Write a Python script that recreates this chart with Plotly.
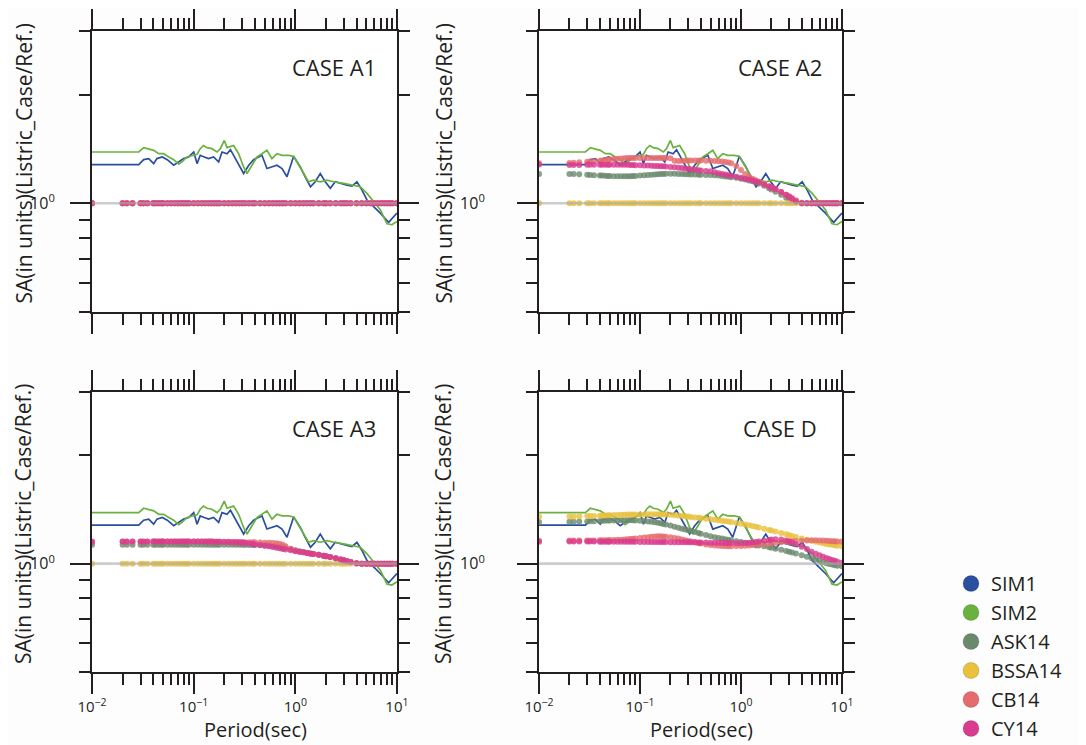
import math
import plotly.graph_objects as go

# ---------------- data ----------------
PERIODS = [
    0.01, 0.02, 0.022, 0.025, 0.03, 0.032, 0.035, 0.04, 0.042, 0.045,
    0.048, 0.05, 0.055, 0.06, 0.065, 0.07, 0.075, 0.08, 0.085, 0.09,
    0.1, 0.11, 0.12, 0.13, 0.14, 0.15, 0.16, 0.17, 0.18, 0.2,
    0.22, 0.24, 0.26, 0.28, 0.3, 0.32, 0.35, 0.38, 0.4, 0.45,
    0.5, 0.55, 0.6, 0.65, 0.7, 0.75, 0.8, 0.9, 1.0, 1.1,
    1.2, 1.3, 1.4, 1.5, 1.7, 1.9, 2.0, 2.2, 2.5, 2.8,
    3.0, 3.2, 3.5, 4.0, 4.5, 5.0, 5.5, 6.0, 6.5, 7.0,
    7.5, 8.0, 8.5, 9.0, 10.0]

UNITY = [
    1.0, 1.0, 1.0, 1.0, 1.0, 1.0, 1.0, 1.0, 1.0, 1.0,
    1.0, 1.0, 1.0, 1.0, 1.0, 1.0, 1.0, 1.0, 1.0, 1.0,
    1.0, 1.0, 1.0, 1.0, 1.0, 1.0, 1.0, 1.0, 1.0, 1.0,
    1.0, 1.0, 1.0, 1.0, 1.0, 1.0, 1.0, 1.0, 1.0, 1.0,
    1.0, 1.0, 1.0, 1.0, 1.0, 1.0, 1.0, 1.0, 1.0, 1.0,
    1.0, 1.0, 1.0, 1.0, 1.0, 1.0, 1.0, 1.0, 1.0, 1.0,
    1.0, 1.0, 1.0, 1.0, 1.0, 1.0, 1.0, 1.0, 1.0, 1.0,
    1.0, 1.0, 1.0, 1.0, 1.0]

SIM1_T = [0.01, 0.0288, 0.0322, 0.0361, 0.0404, 0.0435, 0.049, 0.055, 0.0636, 0.0712,
          0.0797, 0.0893, 0.100, 0.108, 0.116, 0.127, 0.140, 0.157, 0.176, 0.190,
          0.213, 0.230, 0.247, 0.277, 0.310, 0.348, 0.389, 0.436, 0.470, 0.526,
          0.589, 0.660, 0.740, 0.828, 0.963, 1.12, 1.25, 1.41, 1.57, 1.76,
          1.97, 2.21, 2.47, 2.77, 3.22, 3.61, 4.04, 4.53, 5.07, 5.89,
          6.86, 8.28, 10.0]
SIM1_V = [1.28, 1.28, 1.321, 1.33, 1.288, 1.33, 1.344, 1.321, 1.275, 1.302,
          1.33, 1.344, 1.387, 1.288, 1.358, 1.344, 1.33, 1.344, 1.302, 1.387,
          1.372, 1.408, 1.358, 1.288, 1.209, 1.275, 1.321, 1.344, 1.358, 1.248,
          1.261, 1.275, 1.248, 1.184, 1.349, 1.261, 1.184, 1.111, 1.147, 1.209,
          1.147, 1.10, 1.147, 1.135, 1.123, 1.116, 1.147, 1.088, 1.021, 0.979,
          0.939, 0.885, 0.939]

SIM2_T = [0.01, 0.0288, 0.0322, 0.0361, 0.0404, 0.0453, 0.0507, 0.0568, 0.0636, 0.0712,
          0.0767, 0.086, 0.0963, 0.108, 0.116, 0.125, 0.135, 0.151, 0.170, 0.183,
          0.200, 0.213, 0.247, 0.277, 0.310, 0.335, 0.375, 0.420, 0.470, 0.526,
          0.589, 0.660, 0.740, 0.860, 0.963, 1.08, 1.21, 1.35, 1.51, 1.76,
          2.05, 2.38, 2.99, 3.75, 4.36, 5.07, 5.89, 6.86, 7.98, 8.93, 10.0]
SIM2_V = [1.387, 1.387, 1.426, 1.417, 1.402, 1.372, 1.372, 1.344, 1.321, 1.283,
          1.302, 1.344, 1.358, 1.367, 1.417, 1.446, 1.426, 1.417, 1.387, 1.417,
          1.493, 1.426, 1.446, 1.372, 1.261, 1.209, 1.275, 1.344, 1.372, 1.402,
          1.330, 1.372, 1.358, 1.358, 1.349, 1.275, 1.209, 1.147, 1.159, 1.147,
          1.159, 1.147, 1.135, 1.123, 1.111, 1.065, 1.011, 0.959, 0.877, 0.872, 0.89]

REF_T = [0.01, 10.0]
REF_V = [1.0, 1.0]

A2_ASK14 = [
    1.205, 1.206, 1.205, 1.203, 1.200, 1.198, 1.196, 1.194, 1.193, 1.192,
    1.191, 1.190, 1.189, 1.188, 1.188, 1.188, 1.189, 1.189, 1.190, 1.191,
    1.193, 1.195, 1.197, 1.199, 1.201, 1.203, 1.205, 1.206, 1.207, 1.207,
    1.207, 1.206, 1.205, 1.204, 1.203, 1.202, 1.201, 1.200, 1.199, 1.198,
    1.197, 1.195, 1.193, 1.190, 1.187, 1.184, 1.181, 1.176, 1.170, 1.164,
    1.157, 1.150, 1.142, 1.134, 1.118, 1.100, 1.092, 1.076, 1.055, 1.036,
    1.025, 1.015, 1.006, 1.000, 1.000, 1.000, 1.000, 1.000, 1.000, 1.000,
    1.000, 1.000, 1.000, 1.000, 1.000]
A2_CB14 = [
    1.290, 1.294, 1.296, 1.299, 1.303, 1.305, 1.308, 1.312, 1.314, 1.317,
    1.320, 1.322, 1.326, 1.329, 1.331, 1.333, 1.334, 1.335, 1.335, 1.335,
    1.335, 1.335, 1.335, 1.335, 1.335, 1.335, 1.335, 1.335, 1.334, 1.332,
    1.312, 1.310, 1.311, 1.312, 1.313, 1.313, 1.313, 1.313, 1.313, 1.312,
    1.311, 1.310, 1.308, 1.305, 1.302, 1.298, 1.290, 1.268, 1.236, 1.205,
    1.185, 1.170, 1.158, 1.148, 1.130, 1.115, 1.108, 1.094, 1.075, 1.056,
    1.045, 1.034, 1.020, 1.004, 1.000, 1.000, 1.000, 1.000, 1.000, 1.000,
    1.000, 1.000, 1.000, 1.000, 1.000]
A2_CY14 = [
    1.280, 1.277, 1.277, 1.277, 1.278, 1.278, 1.278, 1.279, 1.279, 1.279,
    1.279, 1.279, 1.279, 1.279, 1.279, 1.278, 1.278, 1.277, 1.276, 1.275,
    1.274, 1.273, 1.272, 1.270, 1.269, 1.268, 1.267, 1.266, 1.264, 1.261,
    1.258, 1.255, 1.252, 1.249, 1.246, 1.243, 1.239, 1.235, 1.232, 1.228,
    1.226, 1.219, 1.212, 1.206, 1.201, 1.196, 1.192, 1.184, 1.177, 1.170,
    1.163, 1.156, 1.149, 1.142, 1.128, 1.113, 1.106, 1.093, 1.074, 1.055,
    1.042, 1.030, 1.013, 1.000, 1.000, 1.000, 1.000, 1.000, 1.000, 1.000,
    1.000, 1.000, 1.000, 1.000, 1.000]

A3_ASK14 = [
    1.128, 1.128, 1.128, 1.128, 1.128, 1.128, 1.128, 1.128, 1.128, 1.128,
    1.128, 1.128, 1.128, 1.128, 1.128, 1.128, 1.128, 1.128, 1.128, 1.128,
    1.128, 1.129, 1.129, 1.129, 1.129, 1.129, 1.129, 1.129, 1.129, 1.129,
    1.129, 1.129, 1.128, 1.128, 1.128, 1.127, 1.127, 1.126, 1.126, 1.125,
    1.124, 1.122, 1.120, 1.117, 1.114, 1.110, 1.106, 1.098, 1.090, 1.083,
    1.077, 1.072, 1.068, 1.064, 1.058, 1.052, 1.049, 1.043, 1.035, 1.027,
    1.022, 1.017, 1.010, 1.003, 1.000, 1.000, 1.000, 1.000, 1.000, 1.000,
    1.000, 1.000, 1.000, 1.000, 1.000]
A3_CB14 = [
    1.150, 1.150, 1.150, 1.150, 1.151, 1.151, 1.151, 1.152, 1.152, 1.152,
    1.152, 1.152, 1.152, 1.152, 1.152, 1.152, 1.152, 1.152, 1.152, 1.152,
    1.152, 1.152, 1.152, 1.152, 1.152, 1.152, 1.151, 1.151, 1.151, 1.150,
    1.150, 1.149, 1.149, 1.148, 1.148, 1.147, 1.147, 1.146, 1.146, 1.145,
    1.144, 1.143, 1.142, 1.140, 1.136, 1.128, 1.118, 1.100, 1.088, 1.080,
    1.075, 1.071, 1.067, 1.064, 1.058, 1.052, 1.049, 1.043, 1.035, 1.027,
    1.022, 1.017, 1.010, 1.003, 1.000, 1.000, 1.000, 1.000, 1.000, 1.000,
    1.000, 1.000, 1.000, 1.000, 1.000]
A3_CY14 = [
    1.150, 1.152, 1.152, 1.152, 1.153, 1.153, 1.153, 1.153, 1.153, 1.153,
    1.153, 1.153, 1.153, 1.153, 1.153, 1.153, 1.153, 1.153, 1.153, 1.153,
    1.153, 1.153, 1.152, 1.152, 1.152, 1.152, 1.151, 1.151, 1.150, 1.149,
    1.148, 1.147, 1.146, 1.145, 1.143, 1.141, 1.138, 1.134, 1.131, 1.126,
    1.122, 1.117, 1.112, 1.107, 1.103, 1.099, 1.095, 1.089, 1.083, 1.079,
    1.075, 1.071, 1.067, 1.064, 1.058, 1.052, 1.049, 1.043, 1.035, 1.027,
    1.022, 1.017, 1.010, 1.003, 1.000, 1.000, 1.000, 1.000, 1.000, 1.000,
    1.000, 1.000, 1.000, 1.000, 1.000]

D_ASK14 = [
    1.305, 1.307, 1.308, 1.309, 1.311, 1.312, 1.313, 1.315, 1.316, 1.317,
    1.318, 1.318, 1.319, 1.320, 1.320, 1.321, 1.321, 1.321, 1.320, 1.319,
    1.317, 1.314, 1.311, 1.307, 1.303, 1.299, 1.295, 1.290, 1.285, 1.276,
    1.267, 1.259, 1.251, 1.244, 1.238, 1.232, 1.224, 1.216, 1.211, 1.201,
    1.192, 1.185, 1.179, 1.174, 1.169, 1.165, 1.161, 1.155, 1.149, 1.143,
    1.138, 1.133, 1.128, 1.124, 1.117, 1.110, 1.107, 1.101, 1.093, 1.085,
    1.079, 1.074, 1.067, 1.056, 1.046, 1.036, 1.027, 1.018, 1.010, 1.003,
    0.998, 0.994, 0.990, 0.987, 0.983]
D_BSSA14 = [
    1.350, 1.352, 1.353, 1.354, 1.356, 1.357, 1.358, 1.360, 1.361, 1.362,
    1.363, 1.364, 1.365, 1.366, 1.367, 1.368, 1.369, 1.369, 1.370, 1.370,
    1.371, 1.371, 1.372, 1.372, 1.372, 1.372, 1.371, 1.370, 1.369, 1.367,
    1.364, 1.361, 1.358, 1.355, 1.352, 1.349, 1.345, 1.341, 1.339, 1.334,
    1.329, 1.325, 1.321, 1.317, 1.313, 1.309, 1.305, 1.298, 1.291, 1.284,
    1.278, 1.272, 1.266, 1.260, 1.250, 1.240, 1.236, 1.228, 1.217, 1.207,
    1.200, 1.194, 1.186, 1.175, 1.166, 1.158, 1.151, 1.145, 1.140, 1.135,
    1.131, 1.128, 1.125, 1.122, 1.118]
D_CB14 = [
    1.158, 1.159, 1.159, 1.159, 1.160, 1.160, 1.160, 1.161, 1.161, 1.162,
    1.162, 1.163, 1.164, 1.165, 1.166, 1.168, 1.169, 1.171, 1.173, 1.175,
    1.178, 1.182, 1.185, 1.188, 1.190, 1.191, 1.191, 1.190, 1.188, 1.184,
    1.179, 1.174, 1.168, 1.162, 1.157, 1.152, 1.146, 1.140, 1.137, 1.131,
    1.127, 1.124, 1.122, 1.120, 1.119, 1.118, 1.118, 1.119, 1.120, 1.122,
    1.124, 1.126, 1.128, 1.130, 1.134, 1.138, 1.140, 1.143, 1.147, 1.150,
    1.152, 1.154, 1.156, 1.158, 1.160, 1.161, 1.161, 1.160, 1.159, 1.158,
    1.156, 1.155, 1.154, 1.153, 1.152]
D_CY14 = [
    1.150, 1.152, 1.152, 1.152, 1.152, 1.152, 1.152, 1.151, 1.151, 1.151,
    1.151, 1.151, 1.151, 1.151, 1.150, 1.150, 1.150, 1.150, 1.150, 1.150,
    1.149, 1.149, 1.149, 1.149, 1.148, 1.148, 1.148, 1.148, 1.148, 1.147,
    1.147, 1.147, 1.147, 1.146, 1.146, 1.146, 1.146, 1.145, 1.145, 1.145,
    1.144, 1.144, 1.143, 1.143, 1.142, 1.142, 1.141, 1.140, 1.140, 1.141,
    1.143, 1.146, 1.149, 1.152, 1.158, 1.164, 1.167, 1.170, 1.168, 1.160,
    1.153, 1.145, 1.132, 1.115, 1.098, 1.080, 1.066, 1.055, 1.045, 1.037,
    1.030, 1.024, 1.018, 1.012, 1.005]

PANEL_TITLES = ["CASE A1", "CASE A2", "CASE A3", "CASE D"]
PANEL_GMPE = [
    [UNITY, UNITY, UNITY, UNITY],
    [A2_ASK14, UNITY, A2_CB14, A2_CY14],
    [A3_ASK14, UNITY, A3_CB14, A3_CY14],
    [D_ASK14, D_BSSA14, D_CB14, D_CY14],
]
GMPE_NAMES = ["ASK14", "BSSA14", "CB14", "CY14"]
SERIES_NAMES = ["SIM1", "SIM2"] + GMPE_NAMES

X_TICKVALS = [0.01, 0.1, 1, 10]
X_TICKTEXT = ["10<sup>\u22122</sup>", "10<sup>\u22121</sup>", "10<sup>0</sup>", "10<sup>1</sup>"]
Y_TICKVALS = [1]
Y_TICKTEXT = ["10<sup>0</sup>"]

# ---------------- style ----------------
COLORS = {
    "SIM1": "#2a4f9e",
    "SIM2": "#6ab23e",
    "ASK14": "#6a8a6e",
    "BSSA14": "#e9c13c",
    "CB14": "#e56b6d",
    "CY14": "#d93b8e",
}
REF_COLOR = "rgba(170,170,170,0.6)"
AX = "#231f20"
TXT = "#231f20"
FONT = "Open Sans"

# the page body has an 8px margin; lay the figure out in screen pixels minus it
PAGE_PAD = 8
W, H = 1086 - PAGE_PAD, 745 - PAGE_PAD


def fx(px):  # screen x pixel -> paper fraction
    return (px - PAGE_PAD) / W


def fy(py):  # screen y pixel (from top) -> paper fraction
    return 1 - (py - PAGE_PAD) / H


# panel boxes in screen pixels: (x0, x1, ytop, ybottom)
BOXES = [(92, 397, 31, 312), (539, 842, 31, 312), (92, 397, 392, 672), (539, 842, 392, 672)]
YTITLE_X = [23, 443, 23, 443]
YLABEL_STANDOFF = [12, 29, 12, 29]

MINOR_X = [k * 10.0 ** e for e in (-2, -1, 0) for k in range(2, 10)]
MINOR_Y = [0.5, 0.6, 0.7, 0.8, 0.9, 2, 3]

fig = go.Figure()

for i in range(4):
    xa = "x" if i == 0 else f"x{i+1}"
    ya = "y" if i == 0 else f"y{i+1}"
    fig.add_trace(go.Scatter(x=SIM1_T, y=SIM1_V, mode="lines", name="SIM1",
                             line=dict(color=COLORS["SIM1"], width=1.7),
                             xaxis=xa, yaxis=ya, showlegend=False))
    fig.add_trace(go.Scatter(x=SIM2_T, y=SIM2_V, mode="lines", name="SIM2",
                             line=dict(color=COLORS["SIM2"], width=1.7),
                             xaxis=xa, yaxis=ya, showlegend=False))
    for name, vals in zip(GMPE_NAMES, PANEL_GMPE[i]):
        fig.add_trace(go.Scatter(x=PERIODS, y=vals, mode="markers", name=name,
                                 marker=dict(color=COLORS[name], size=6, opacity=0.8,
                                             line=dict(width=0)),
                                 xaxis=xa, yaxis=ya, showlegend=False))
    fig.add_trace(go.Scatter(x=REF_T, y=REF_V, mode="lines", name="Ref",
                             line=dict(color=REF_COLOR, width=2.6),
                             xaxis=xa, yaxis=ya, showlegend=False, hoverinfo="skip"))

# legend-only entries
for name in SERIES_NAMES:
    fig.add_trace(go.Scatter(x=[None], y=[None], mode="markers", name=name,
                             marker=dict(color=COLORS[name], size=16,
                                         line=dict(color="rgba(0,0,0,0.25)", width=0.6)),
                             xaxis="x4", yaxis="y4", showlegend=True))

layout = dict(
    width=W, height=H,
    margin=dict(l=0, r=0, t=0, b=0, autoexpand=False),
    paper_bgcolor="#fdfdfd", plot_bgcolor="#ffffff",
    font=dict(family=FONT, color=TXT),
    showlegend=True,
    legend=dict(x=fx(951), y=fy(564), xanchor="left", yanchor="top",
                font=dict(size=20, family=FONT, color=TXT),
                bgcolor="rgba(0,0,0,0)", itemwidth=30, tracegroupgap=0),
)

annotations = []
for i, (x0, x1, yt, yb) in enumerate(BOXES):
    bottom = i >= 2
    key = "" if i == 0 else str(i + 1)
    layout["xaxis" + key] = dict(
        type="log", range=[-2.0005, 1.0005], domain=[fx(x0), fx(x1)],
        anchor="y" + key, automargin=False,
        tickmode="array", tickvals=X_TICKVALS, ticktext=X_TICKTEXT,
        showticklabels=bottom,
        ticks="outside", ticklen=20, tickwidth=2, tickcolor=AX,
        showline=True, linewidth=2, linecolor=AX, mirror="ticks",
        showgrid=False, zeroline=False,
        tickfont=dict(size=15, family=FONT, color=TXT),
        ticklabelstandoff=0,
        minor=dict(tickmode="array", tickvals=MINOR_X, ticks="outside", ticklen=11,
                   tickwidth=2, tickcolor=AX, showgrid=False),
    )
    layout["yaxis" + key] = dict(
        type="log", range=[math.log10(0.4995), math.log10(3.003)],
        domain=[fy(yb), fy(yt)], anchor="x" + key, automargin=False,
        tickmode="array", tickvals=Y_TICKVALS, ticktext=Y_TICKTEXT,
        ticks="outside", ticklen=20, tickwidth=2, tickcolor=AX,
        showline=True, linewidth=2, linecolor=AX, mirror="ticks",
        showgrid=False, zeroline=False,
        tickfont=dict(size=16, family=FONT, color=TXT),
        ticklabelstandoff=YLABEL_STANDOFF[i],
        minor=dict(tickmode="array", tickvals=MINOR_Y, ticks="outside", ticklen=11,
                   tickwidth=2, tickcolor=AX, showgrid=False),
    )
    # case label
    annotations.append(dict(
        text=PANEL_TITLES[i], xref=f"x{key} domain" if key else "x domain",
        yref=f"y{key} domain" if key else "y domain",
        x=0.795, y=0.872, xanchor="center", yanchor="middle", showarrow=False,
        font=dict(size=22, family=FONT, color=TXT)))
    # y title
    annotations.append(dict(
        text="SA(in units)(Listric_Case/Ref.)", xref="paper", yref="paper",
        x=fx(YTITLE_X[i]), y=fy((yt + yb) / 2 - 8), textangle=-90,
        xanchor="center", yanchor="middle", showarrow=False,
        font=dict(size=21, family=FONT, color=TXT)))
    if bottom:
        annotations.append(dict(
            text="Period(sec)", xref="paper", yref="paper",
            x=fx((x0 + x1) / 2 + 11), y=fy(729),
            xanchor="center", yanchor="middle", showarrow=False,
            font=dict(size=20, family=FONT, color=TXT)))

layout["annotations"] = annotations
fig.update_layout(**layout)

fig.write_html("out.html")
